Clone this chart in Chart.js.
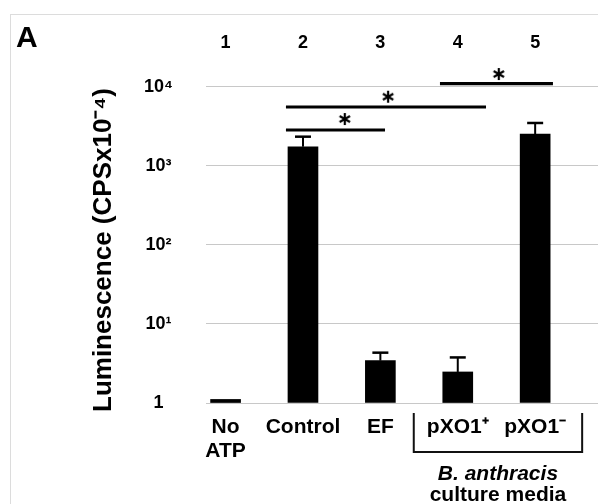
<!DOCTYPE html>
<html><head><meta charset="utf-8">
<script src="https://cdn.jsdelivr.net/npm/chart.js@4"></script>
<style>html,body{margin:0;padding:0;background:#fff;}canvas{display:block;}</style>
</head><body>
<canvas id="c" width="598" height="504"></canvas>
<script>
// ---- data ----
const categories = [['No', 'ATP'], 'Control', 'EF', 'pXO1⁺', 'pXO1⁻'];
const laneNumbers = ['1', '2', '3', '4', '5'];
const positions = [1, 2, 3, 4, 5];
const luminescence = [1.11, 1738, 3.43, 2.47, 2518];
const errorPlus = [0, 590, 0.9, 1.3, 950];
const yTickValues = [1, 10, 100, 1000, 10000];
const yTickLabels = ['1', '10¹', '10²', '10³', '10⁴'];
const sigStart = [1.78, 1.78, 3.77];
const sigEnd = [3.06, 4.365, 5.23];
const sigLevel = [2827, 5521, 10890];
const starX = [2.54, 3.10, 4.53];
const starY = [3893, 7453, 14430];
const yTitle = 'Luminescence (CPSx10⁻⁴)';
const panelLabel = 'A';
const groupLine1 = 'B. anthracis';
const groupLine2 = 'culture media';

const FONT = "'Liberation Sans', Arial, sans-serif";

function starCanvas() {
  const c = document.createElement('canvas');
  c.width = 16; c.height = 16;
  const g = c.getContext('2d');
  g.strokeStyle = '#000'; g.lineWidth = 2.2;
  const r = 6;
  for (const a of [90, 30, 150]) {
    const t = a * Math.PI / 180;
    g.beginPath();
    g.moveTo(8 - r * Math.cos(t), 8 - r * Math.sin(t));
    g.lineTo(8 + r * Math.cos(t), 8 + r * Math.sin(t));
    g.stroke();
  }
  return c;
}

const decor = {
  id: 'decor',
  beforeDraw(chart) {
    const ctx = chart.ctx;
    ctx.save();
    ctx.strokeStyle = '#dcdcdc'; ctx.lineWidth = 1;
    ctx.strokeRect(10.5, 14.5, 700, 600);
    ctx.restore();
  },
  afterDatasetsDraw(chart) {
    const ctx = chart.ctx;
    const ys = chart.scales.y;
    const meta = chart.getDatasetMeta(0);
    ctx.save();
    ctx.strokeStyle = '#000';
    meta.data.forEach((bar, i) => {
      if (!errorPlus[i]) return;
      const yt = ys.getPixelForValue(luminescence[i] + errorPlus[i]);
      ctx.lineWidth = 2;
      ctx.beginPath(); ctx.moveTo(bar.x, bar.y); ctx.lineTo(bar.x, yt); ctx.stroke();
      ctx.lineWidth = 2.5;
      ctx.beginPath(); ctx.moveTo(bar.x - 8, yt); ctx.lineTo(bar.x + 8, yt); ctx.stroke();
    });
    ctx.restore();
  },
  afterDraw(chart) {
    const ctx = chart.ctx;
    const xs = chart.scales.x;
    ctx.save();
    ctx.fillStyle = '#000';
    ctx.font = 'bold 30px ' + FONT;
    ctx.textAlign = 'left'; ctx.textBaseline = 'alphabetic';
    ctx.fillText(panelLabel, 16, 47);
    // bracket
    const l = xs.getPixelForValue(4) - 44, r = xs.getPixelForValue(5) + 47;
    const top = 413, bot = 452;
    ctx.strokeStyle = '#111'; ctx.lineWidth = 2;
    ctx.beginPath();
    ctx.moveTo(l, top); ctx.lineTo(l, bot); ctx.lineTo(r, bot); ctx.lineTo(r, top);
    ctx.stroke();
    const cx = (l + r) / 2;
    ctx.textAlign = 'center'; ctx.textBaseline = 'middle';
    ctx.font = 'italic bold 21px ' + FONT;
    ctx.fillText(groupLine1, cx, 474);
    ctx.font = 'bold 21px ' + FONT;
    ctx.fillText(groupLine2, cx, 495);
    ctx.restore();
  }
};

const xMin = 0.747, xMax = 5.812;

new Chart(document.getElementById('c'), {
  data: {
    datasets: [
      {
        type: 'bar', xAxisID: 'x', yAxisID: 'y',
        data: positions.map((p, i) => ({ x: p, y: luminescence[i] })),
        backgroundColor: '#000', borderWidth: 0, barThickness: 30, base: 1, order: 3
      },
      ...sigStart.map((s, i) => ({
        type: 'line', xAxisID: 'x', yAxisID: 'y',
        data: [{ x: s, y: sigLevel[i] }, { x: sigEnd[i], y: sigLevel[i] }],
        borderColor: '#000', borderWidth: 3.2, pointRadius: 0, fill: false, order: 1
      })),
      {
        type: 'scatter', xAxisID: 'x', yAxisID: 'y',
        data: starX.map((x, i) => ({ x: x, y: starY[i] })),
        pointStyle: starCanvas(), pointRadius: 8, order: 0
      }
    ]
  },
  options: {
    responsive: false,
    animation: false,
    devicePixelRatio: 1,
    layout: { autoPadding: false, padding: { left: 80, top: 0, right: 0, bottom: 0 } },
    plugins: { legend: { display: false }, tooltip: { enabled: false } },
    scales: {
      x: {
        type: 'linear', position: 'bottom', min: xMin, max: xMax, offset: false,
        grid: { display: false, drawTicks: false, offset: false }, border: { display: false },
        afterBuildTicks: s => { s.ticks = positions.map(v => ({ value: v })); },
        afterFit: s => { s.height = 92; s.paddingLeft = 0; s.paddingRight = 0; },
        ticks: {
          autoSkip: false, maxRotation: 0, padding: 2.5, color: '#000',
          font: { family: FONT, size: 21, weight: 'bold', lineHeight: 1.17 },
          callback: v => categories[positions.indexOf(v)]
        }
      },
      x2: {
        type: 'linear', position: 'top', min: xMin, max: xMax, offset: false,
        grid: { display: false, drawTicks: false, offset: false }, border: { display: false },
        afterBuildTicks: s => { s.ticks = positions.map(v => ({ value: v })); },
        afterFit: s => { s.height = 60; s.paddingLeft = 0; s.paddingRight = 0; },
        ticks: {
          autoSkip: false, maxRotation: 0, padding: 5.7, color: '#000',
          font: { family: FONT, size: 18, weight: 'bold' },
          callback: v => laneNumbers[positions.indexOf(v)]
        }
      },
      y: {
        type: 'logarithmic', position: 'left', min: 0.77, max: 21690,
        grid: { color: '#c8c8c8', lineWidth: 1, drawTicks: false },
        border: { display: false },
        afterBuildTicks: s => { s.ticks = yTickValues.map(v => ({ value: v })); },
        afterFit: s => { s.width = 126; s.paddingTop = 0; s.paddingBottom = 0; },
        ticks: {
          padding: 33, crossAlign: 'center', color: '#000',
          font: { family: FONT, size: 18, weight: 'bold' },
          callback: v => { const i = yTickValues.indexOf(v); return i >= 0 ? yTickLabels[i] : ''; }
        },
        title: {
          display: true, text: yTitle, align: 'start', color: '#000',
          font: { family: FONT, size: 26, weight: 'bold' },
          padding: { top: 8.4, bottom: 0 }
        }
      }
    }
  },
  plugins: [decor]
});
</script>
</body></html>
